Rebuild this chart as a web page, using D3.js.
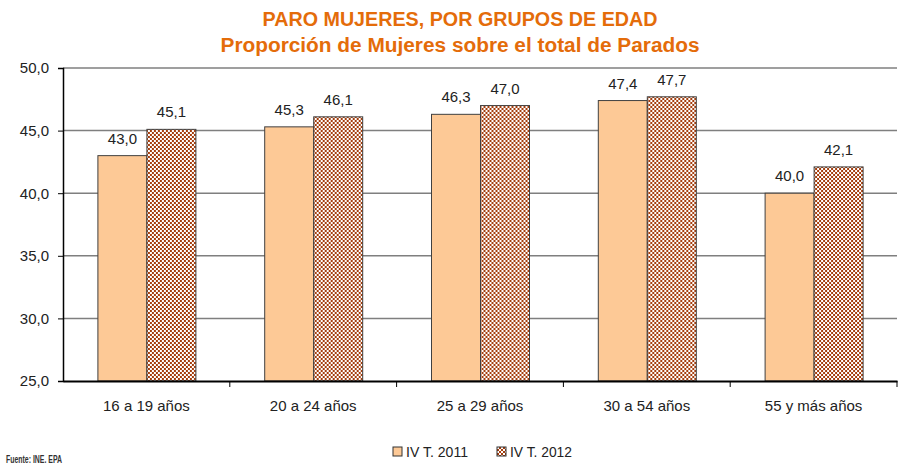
<!DOCTYPE html>
<html>
<head>
<meta charset="utf-8">
<script src="https://cdn.jsdelivr.net/npm/d3@7"></script>
<style>
  body { margin: 0; background: #fff; }
  svg { display: block; font-family: "Liberation Sans", Arial, sans-serif; }
</style>
</head>
<body>
<svg id="chart" width="903" height="467"></svg>
<script>
const categories = ['16 a 19 años', '20 a 24 años', '25 a 29 años', '30 a 54 años', '55 y más años'];
const seriesNames = ['IV T. 2011', 'IV T. 2012'];
const values2011 = [43.0, 45.3, 46.3, 47.4, 40.0];
const values2012 = [45.1, 46.1, 47.0, 47.7, 42.1];
const yTicks = [25, 30, 35, 40, 45, 50];

const margin = { top: 68, right: 6, bottom: 86, left: 63 };
const width = 903 - margin.left - margin.right;
const height = 467 - margin.top - margin.bottom;

const svg = d3.select('#chart');
const fmt = (v) => d3.format('.1f')(v).replace('.', ',');

// Checkerboard pattern for the 2012 series
const defs = svg.append('defs');
const pat = defs.append('pattern')
    .attr('id', 'checker')
    .attr('width', 4).attr('height', 4)
    .attr('patternUnits', 'userSpaceOnUse');
pat.append('rect').attr('width', 4).attr('height', 4).attr('fill', '#a53d0c');
pat.append('rect').attr('x', 0).attr('y', 0).attr('width', 2).attr('height', 2).attr('fill', '#ffffff');
pat.append('rect').attr('x', 2).attr('y', 2).attr('width', 2).attr('height', 2).attr('fill', '#ffffff');

// Title (condensed look via textLength)
const titleFont = '"Liberation Sans", Arial, sans-serif';
svg.append('text')
    .attr('x', 460).attr('y', 26)
    .attr('text-anchor', 'middle')
    .attr('fill', '#e46c0a')
    .attr('textLength', 395).attr('lengthAdjust', 'spacingAndGlyphs')
    .style('font-family', titleFont)
    .style('font-weight', 'bold')
    .style('font-size', '20px')
    .text('PARO MUJERES, POR GRUPOS DE EDAD');
svg.append('text')
    .attr('x', 460).attr('y', 52)
    .attr('text-anchor', 'middle')
    .attr('fill', '#e46c0a')
    .attr('textLength', 479).attr('lengthAdjust', 'spacingAndGlyphs')
    .style('font-family', titleFont)
    .style('font-weight', 'bold')
    .style('font-size', '20px')
    .text('Proporción de Mujeres sobre el total de Parados');

const chart = svg.append('g').attr('transform', `translate(${margin.left}, ${margin.top})`);

const x0 = d3.scaleBand().domain(categories).range([0, width]).paddingInner(0).paddingOuter(0);
const x1 = d3.scaleBand().domain(seriesNames).range([0, 98]);
const y = d3.scaleLinear().domain([25, 50]).range([height, 0]);

// Gridlines
chart.append('g')
    .selectAll('line')
    .data(yTicks.filter((t) => t > 25))
    .join('line')
    .attr('x1', 0).attr('x2', width)
    .attr('y1', (d) => y(d)).attr('y2', (d) => y(d))
    .attr('stroke', '#7f7f7f')
    .attr('stroke-width', 1.5);

// Bars
const groups = chart.selectAll('.grp')
    .data(categories)
    .join('g')
    .attr('transform', (d) => `translate(${x0(d) + (x0.bandwidth() - 98) / 2 + 0.5}, 0)`);

const rows = categories.map((c, i) => [
    { s: seriesNames[0], v: values2011[i] },
    { s: seriesNames[1], v: values2012[i] }
]);

groups.each(function (c, i) {
    const g = d3.select(this);
    g.selectAll('rect')
        .data(rows[i])
        .join('rect')
        .attr('x', (d) => x1(d.s))
        .attr('y', (d) => y(d.v))
        .attr('width', x1.bandwidth())
        .attr('height', (d) => height - y(d.v))
        .attr('fill', (d, j) => (j === 0 ? '#fdc996' : 'url(#checker)'))
        .attr('stroke', '#404040')
        .attr('stroke-width', 1);
    g.selectAll('text')
        .data(rows[i])
        .join('text')
        .attr('x', (d) => x1(d.s) + x1.bandwidth() / 2)
        .attr('y', (d) => y(d.v) - 12)
        .attr('text-anchor', 'middle')
        .style('font-size', '15px')
        .attr('fill', '#222')
        .text((d) => fmt(d.v));
});

// Y axis
const yAxis = d3.axisLeft(y).tickValues(yTicks).tickFormat(fmt).tickSize(5).tickPadding(9);
const yg = chart.append('g').call(yAxis);
yg.select('.domain').attr('stroke', '#000').attr('stroke-width', 1.5);
yg.selectAll('.tick line').attr('stroke', '#000');
yg.selectAll('.tick text').style('font-size', '15px').attr('fill', '#222');

// X axis
const xAxis = d3.axisBottom(x0).tickSize(0).tickPadding(19);
const xg = chart.append('g').attr('transform', `translate(0, ${height})`).call(xAxis);
xg.select('.domain').attr('stroke', '#000').attr('stroke-width', 2);
xg.selectAll('.tick text').style('font-size', '15px').attr('fill', '#222');
xg.selectAll('.sep')
    .data(categories.slice(1).concat(['end']))
    .join('line')
    .attr('x1', (d, i) => x0.step() * (i + 1)).attr('x2', (d, i) => x0.step() * (i + 1))
    .attr('y1', 0).attr('y2', 6)
    .attr('stroke', '#000');

// Legend
const legend = svg.append('g').attr('transform', 'translate(393, 447)');
seriesNames.forEach((name, i) => {
    const lg = legend.append('g').attr('transform', `translate(${i * 104}, 0)`);
    lg.append('rect')
        .attr('width', 9).attr('height', 9)
        .attr('fill', i === 0 ? '#fdc996' : 'url(#checker)')
        .attr('stroke', '#333');
    lg.append('text')
        .attr('x', 13).attr('y', 10)
        .attr('textLength', 62).attr('lengthAdjust', 'spacingAndGlyphs')
        .style('font-size', '15px')
        .attr('fill', '#222')
        .text(name);
});

// Source
svg.append('text')
    .attr('x', 6).attr('y', 463)
    .attr('textLength', 56).attr('lengthAdjust', 'spacingAndGlyphs')
    .style('font-size', '11px')
    .style('font-weight', 'bold')
    .attr('fill', '#333')
    .text('Fuente: INE. EPA');
</script>
</body>
</html>
